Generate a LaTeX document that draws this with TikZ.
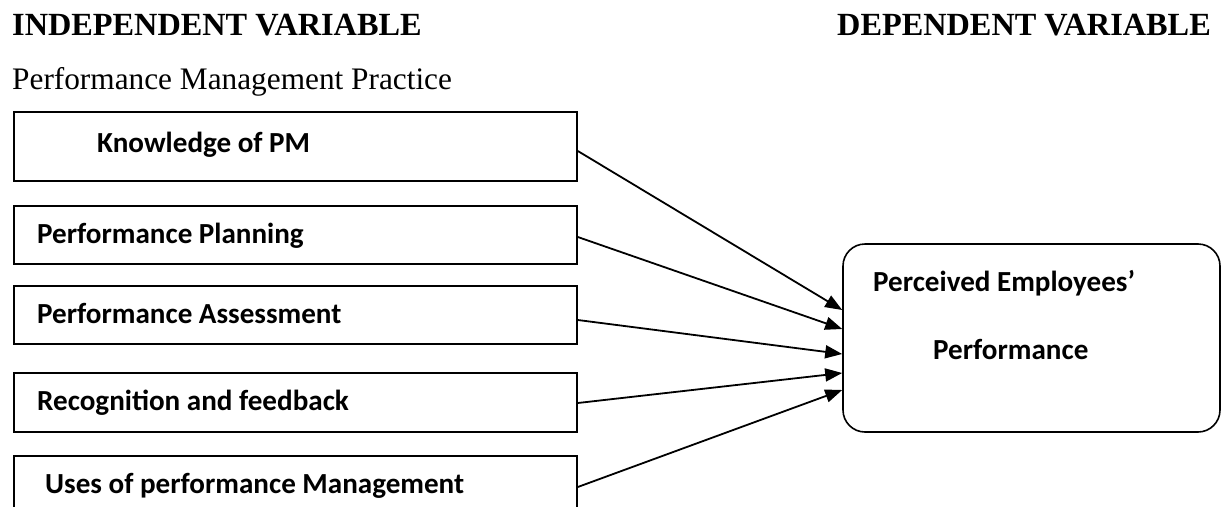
\documentclass[tikz,border=0pt]{standalone}
\usepackage{fontspec}
\setmainfont{Liberation Serif}
\newfontfamily\boxfont{Carlito}
\usetikzlibrary{arrows.meta}
\begin{document}
\begin{tikzpicture}[x=1pt,y=-1pt,
  hd/.style={anchor=base west, inner sep=0pt, font=\fontsize{32.3}{36}\selectfont\bfseries},
  sub/.style={anchor=base west, inner sep=0pt, font=\fontsize{31.3}{34}\selectfont},
  lbl/.style={anchor=base west, inner sep=0pt, font=\boxfont\bfseries\fontsize{29.1}{34}\selectfont},
  ivbox/.style={draw, line width=1.6pt, rectangle, inner sep=0pt, minimum width=563pt},
  dvbox/.style={draw, line width=1.6pt, rectangle, rounded corners=22pt, inner sep=0pt, minimum width=377pt, minimum height=188pt},
  arr/.style={line width=1.8pt, -{Triangle[length=17pt,width=13pt]}}
]
\useasboundingbox (0,0) rectangle (1222,506);
\clip (0,0) rectangle (1222,506);

% headings
\node[hd] (ivh) at (12,35) {INDEPENDENT VARIABLE};
\node[hd] (dvh) at (837,35) {DEPENDENT VARIABLE};
\node[sub] (pmp) at (12,89) {Performance Management Practice};

% independent variable boxes
\node[ivbox, minimum height=69pt] (b1) at (295.5,146.5) {};
\node[ivbox, minimum height=58pt] (b2) at (295.5,235) {};
\node[ivbox, minimum height=58pt] (b3) at (295.5,315) {};
\node[ivbox, minimum height=59pt] (b4) at (295.5,402.5) {};
\node[ivbox, minimum height=61pt] (b5) at (295.5,486.5) {};

\node[lbl] (t1) at (97,152) {Knowledge of PM};
\node[lbl] (t2) at (37,243) {Performance Planning};
\node[lbl] (t3) at (37,323) {Performance Assessment};
\node[lbl] (t4) at (37,410) {Recognition and feedback};
\node[lbl] (t5) at (45,493) {Uses of performance Management};

% dependent variable box
\node[dvbox] (pe) at (1031.5,338) {};
\node[lbl] (pt1) at (873,291) {Perceived Employees’};
\node[lbl] (pt2) at (933,359) {Performance};

% connectors
\draw[arr] ([yshift=-4.5pt]b1.east) -- ([yshift=28pt]pe.west);
\draw[arr] ([yshift=-2pt]b2.east) -- ([yshift=9pt]pe.west);
\draw[arr] ([yshift=-5pt]b3.east) -- ([yshift=-16pt]pe.west);
\draw[arr] ([yshift=-0.5pt]b4.east) -- ([yshift=-35pt]pe.west);
\draw[arr] ([yshift=-0.5pt]b5.east) -- ([yshift=-52pt]pe.west);
\end{tikzpicture}
\end{document}
